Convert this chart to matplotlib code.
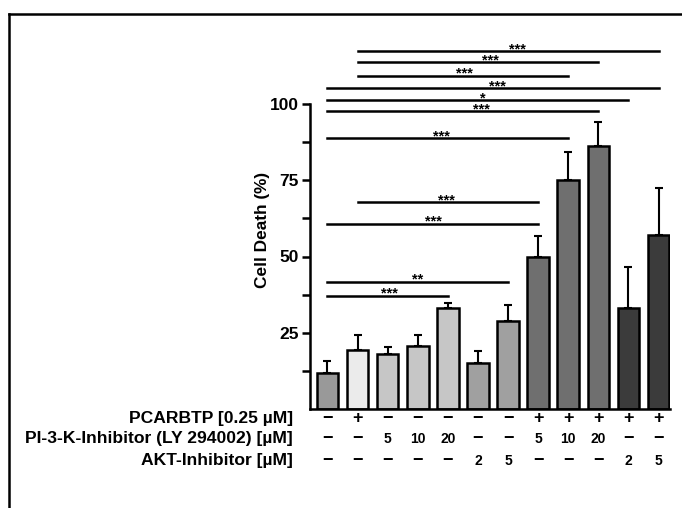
import matplotlib.pyplot as plt
import matplotlib.lines as mlines
import numpy as np

plt.rcParams['font.family'] = ['Liberation Sans', 'DejaVu Sans']
plt.rcParams['font.weight'] = 'bold'

# donnees
means = [11.7, 19.5, 18.0, 20.7, 33.2, 15.0, 28.7, 50.0, 75.2, 86.2, 33.1, 57.2]
errs = [4.0, 4.9, 2.2, 3.7, 1.6, 3.9, 5.4, 6.7, 9.1, 8.0, 13.6, 15.3]
colors = ['#999999', '#ebebeb', '#c6c6c6', '#c6c6c6', '#c6c6c6', '#a0a0a0',
          '#a0a0a0', '#6f6f6f', '#6f6f6f', '#6f6f6f', '#3b3b3b', '#3b3b3b']

row_labels = ['PCARBTP [0.25 µM]', 'PI-3-K-Inhibitor (LY 294002) [µM]', 'AKT-Inhibitor [µM]']
pcarbtp = ['−', '+', '−', '−', '−', '−', '−', '+', '+', '+', '+', '+']
pi3k = ['−', '−', '5', '10', '20', '−', '−', '5', '10', '20', '−', '−']
akt = ['−', '−', '−', '−', '−', '2', '5', '−', '−', '−', '2', '5']

# comparaisons: debut, fin, hauteur, etoiles
sig_start = [1, 1, 1, 0, 0, 0, 0, 1, 0, 0, 0]
sig_end = [11, 9, 8, 11, 10, 9, 8, 7, 7, 6, 4]
sig_y = [117.4, 113.7, 109.3, 105.2, 101.3, 97.7, 88.9, 67.8, 60.8, 41.8, 37.2]
sig_txt = ['***', '***', '***', '***', '*', '***', '***', '***', '***', '**', '***']
sig_tx = [6.32, 5.40, 4.56, 5.66, 5.16, 5.10, 3.78, 3.95, 3.52, 3.0, 2.07]

fig = plt.figure(figsize=(6.82, 5.08), dpi=100)
ax = fig.add_axes([310 / 682, 1 - 409 / 508, 360 / 682, 366 / 508])

x = np.arange(len(means))
ax.bar(x, means, width=0.72, color=colors, edgecolor='black', linewidth=1.8, zorder=2)
ax.errorbar(x, means, yerr=[np.zeros(len(errs)), errs], fmt='none', ecolor='black',
            elinewidth=1.5, capsize=3, capthick=1.5, zorder=1)

for s, e, y, t, tx in zip(sig_start, sig_end, sig_y, sig_txt, sig_tx):
    ax.plot([s, e], [y, y], color='black', lw=1.8, clip_on=False)
    # l'asterisque est haut dans la police: ligne de base un peu sous le trait
    ax.text(tx, y - 0.7, t, ha='center', va='baseline', fontsize=10.5, fontweight='bold')

ax.set_xlim(-0.578, 11.38)
ax.set_ylim(0, 120)
ax.spines['top'].set_visible(False)
ax.spines['right'].set_visible(False)
ax.spines['left'].set_bounds(0, 100)
ax.spines['left'].set_linewidth(1.8)
ax.spines['bottom'].set_linewidth(1.8)
ax.set_xticks([])
ax.set_yticks([25, 50, 75, 100])
ax.set_yticks([12.5, 37.5, 62.5, 87.5], minor=True)
ax.tick_params(axis='y', which='major', length=6, width=1.8, labelsize=12.5, pad=2)
ax.tick_params(axis='y', which='minor', length=6, width=1.8)
for lab in ax.get_yticklabels():
    lab.set_fontweight('bold')
ax.set_ylabel('Cell Death (%)', fontsize=12.4, fontweight='bold')
ax.yaxis.set_label_coords(-0.11, 0.49)

# tableau des traitements
row_y = [(409 - 419) / 366, (409 - 439) / 366, (409 - 461) / 366]
for lab, ry, vals in zip(row_labels, row_y, [pcarbtp, pi3k, akt]):
    ax.text(-0.047, ry, lab, transform=ax.transAxes, ha='right', va='center',
            fontsize=12.6, fontweight='bold')
    for xi, v in zip(x, vals):
        fs = 13 if v in ('−', '+') else 10
        ax.text(xi, ry, v, transform=ax.get_xaxis_transform(), ha='center', va='center',
                fontsize=fs, fontweight='bold')

# cadre
fig.add_artist(mlines.Line2D([9 / 682, 9 / 682], [0, 1 - 14 / 508], color='black', lw=1.8))
fig.add_artist(mlines.Line2D([9 / 682, 1], [1 - 14 / 508, 1 - 14 / 508], color='black', lw=1.8))

fig.savefig('out.png', dpi=100)
